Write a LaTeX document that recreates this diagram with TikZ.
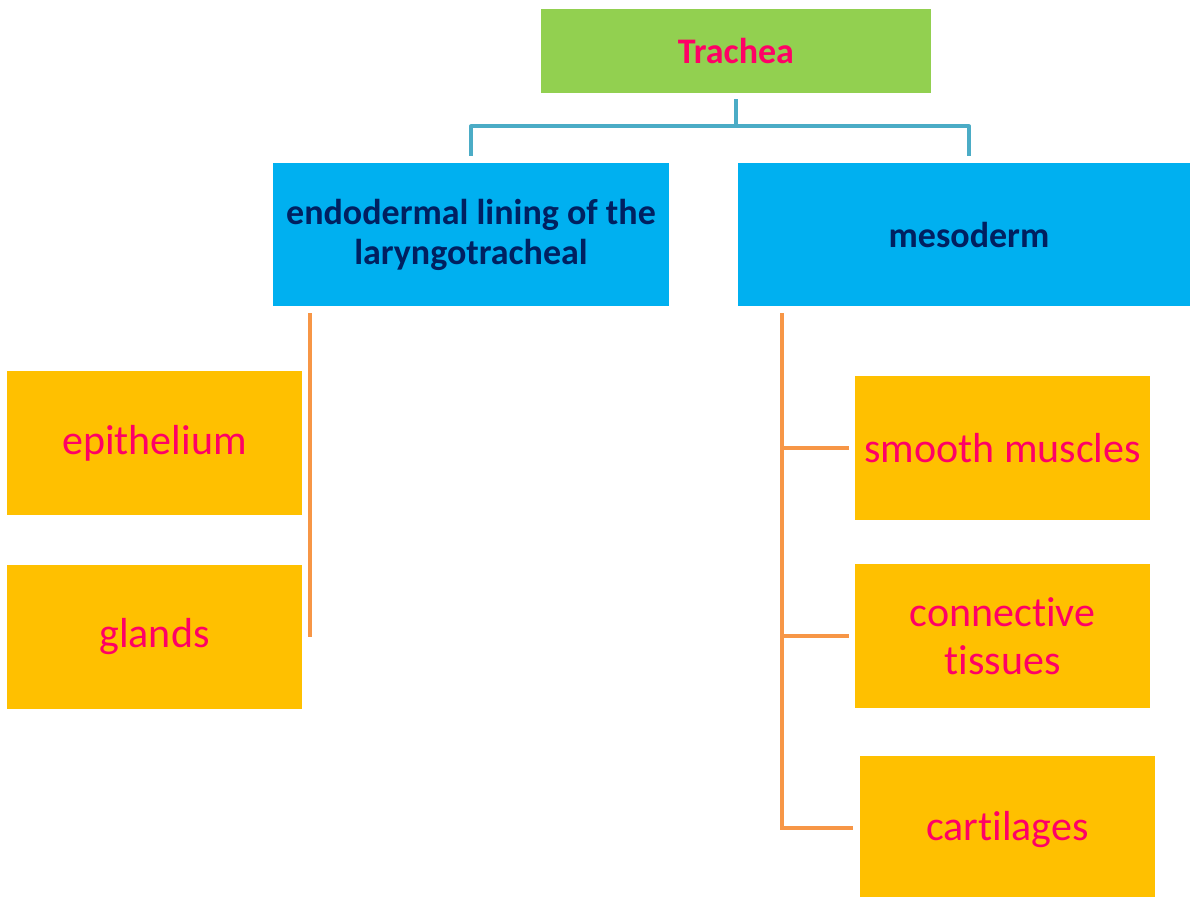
\documentclass[tikz,border=0pt]{standalone}
\usepackage{fontspec}
\setmainfont{Carlito}[Ligatures=NoCommon]
\usetikzlibrary{calc}

\definecolor{boxgreen}{HTML}{92D050}
\definecolor{boxblue}{HTML}{00B0F0}
\definecolor{boxorange}{HTML}{FFC000}
\definecolor{txtpink}{HTML}{FF0066}
\definecolor{txtnavy}{HTML}{002060}
\definecolor{linkteal}{HTML}{4BACC6}
\definecolor{linkorange}{HTML}{F79646}

\tikzset{
  rootbox/.style={fill=boxgreen, inner sep=0pt, minimum width=195pt, minimum height=42pt,
    text=txtpink, font=\fontsize{18}{20}\selectfont\bfseries},
  layerbox/.style={fill=boxblue, inner sep=0pt, minimum height=71.5pt, align=center,
    text=txtnavy, font=\fontsize{18}{20}\selectfont\bfseries},
  partbox/.style={fill=boxorange, inner sep=0pt, minimum width=147.5pt, minimum height=72pt,
    align=center, text=txtpink, font=\fontsize{21}{24}\selectfont},
  tealline/.style={linkteal, line width=2pt},
  orangeline/.style={linkorange, line width=2pt},
}

\begin{document}
\begin{tikzpicture}[x=0.5pt, y=-0.5pt]
        \useasboundingbox (0,0) rectangle (1190,896);

        % Raiz
        \node[rootbox] (trachea) at (736,51) {Trachea};

        % Capas embrionarias
        \node[layerbox, minimum width=198pt] (endo) at (471,234.5) {endodermal lining of the\\laryngotracheal};
        \node[layerbox, minimum width=231pt] (meso) at (969,234.5) {mesoderm};

        % Derivados del endodermo
        \node[partbox] (epi) at (154.5,443) {epithelium};
        \node[partbox] (glands) at (154.5,636.5) {glands};

        % Derivados del mesodermo
        \node[partbox] (smooth) at (1002.5,448) {smooth muscles};
        \node[partbox] (conn) at (1002.5,636) {connective\\tissues};
        \node[partbox, minimum height=74pt] (cart) at (1007.5,830) {cartilages};

        % Conector superior
        \coordinate (fork) at ($(trachea.south)+(0,33)$);
        \draw[tealline] ($(trachea.south)+(0,6)$) -- (fork);
        \draw[tealline, line join=round] ($(endo.north)+(0,-7)$) |- (fork) -| ($(meso.north)+(0,-7)$);

        % Linea izquierda
        \coordinate (lspine) at ($(endo.south west)+(37,7)$);
        \draw[orangeline] (lspine) -- (lspine |- glands.east);

        % Linea derecha con ramas
        \coordinate (rspine) at ($(meso.south west)+(44,7)$);
        \draw[orangeline] (rspine) |- ($(cart.west)+(-7,-2)$);
        \foreach \n in {smooth, conn}
            \draw[orangeline] (rspine |- \n.west) -- ($(\n.west)+(-6,0)$);
    \end{tikzpicture}
\end{document}
